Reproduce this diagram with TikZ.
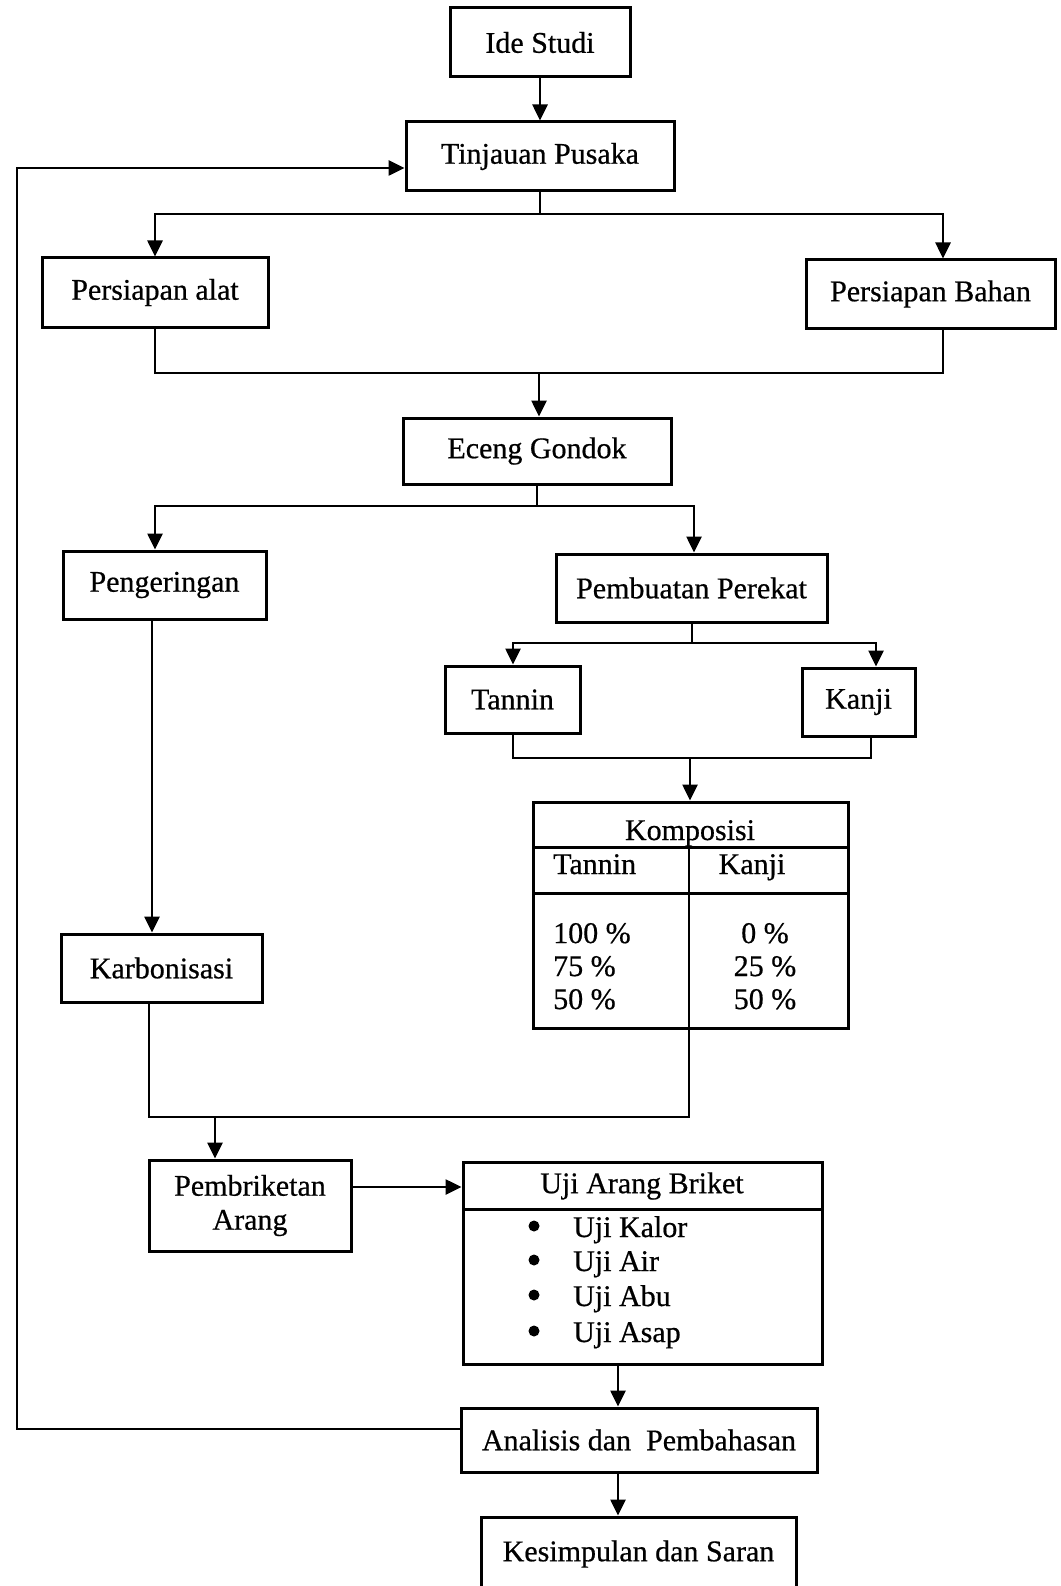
\documentclass[tikz,border=0pt]{standalone}
\usepackage{fontspec}
\setmainfont{Liberation Serif}[FakeBold=0.6]
\usetikzlibrary{arrows.meta}
\newcommand\mkbox[6]{\node[box,minimum width={#4-#2},minimum height={#5-#3}] (#1) at ({(#2+#4)/2},{(#3+#5)/2}) {#6};}
\begin{document}
\begin{tikzpicture}[x=1pt,y=-1pt,
  box/.style={draw, line width=3pt, inner sep=0pt, font=\fontsize{30}{34}\selectfont, align=center},
  txt/.style={inner sep=0pt, font=\fontsize{30}{34}\selectfont},
  dot/.style={circle, fill, inner sep=0pt, minimum size=11pt},
  ln/.style={line width=2.6pt},
  rule/.style={line width=3pt},
  ar/.style={line width=2.6pt, -{Triangle[length=16pt,width=15pt]}}]
\useasboundingbox (0,0) rectangle (1060,1586);
\clip (0,0) rectangle (1060,1586);
% boxes
\mkbox{ide}{450}{8}{630}{77}{Ide Studi}
\mkbox{tin}{406}{122}{674}{191}{Tinjauan Pusaka}
\mkbox{alat}{42}{258}{268}{327}{Persiapan alat}
\mkbox{bahan}{806}{260}{1055}{328}{Persiapan Bahan}
\mkbox{eceng}{403}{418}{671}{484}{Eceng Gondok}
\mkbox{peng}{63}{551}{266}{619}{Pengeringan}
\mkbox{perekat}{556}{554}{827}{622}{Pembuatan Perekat}
\mkbox{tannin}{445}{666}{580}{733}{Tannin}
\mkbox{kanji}{802}{668}{915}{736}{Kanji}
\mkbox{komp}{533}{802}{848}{1028}{}
\mkbox{karb}{61}{934}{262}{1002}{Karbonisasi}
\mkbox{pemb}{149}{1160}{351}{1251}{Pembriketan\\Arang}
\mkbox{uji}{463}{1162}{822}{1364}{}
\mkbox{anal}{461}{1408}{817}{1472}{Analisis dan\ \ Pembahasan}
\mkbox{kesim}{481}{1517}{796}{1591}{Kesimpulan dan Saran}
% table rules
\draw[rule] (533,847) -- (848,847);
\draw[rule] (533,893) -- (848,893);
\draw[rule] (463,1209) -- (822,1209);
% table texts
\node[txt, anchor=base] (kompT) at (690,840) {Komposisi};
\node[txt, anchor=base west] (tanH) at (553,874) {Tannin};
\node[txt, anchor=base] (kanH) at (752,874) {Kanji};
\node[txt, anchor=base west] (t1) at (553,943) {100 \%};
\node[txt, anchor=base west] (t2) at (553,976) {75 \%};
\node[txt, anchor=base west] (t3) at (553,1009) {50 \%};
\node[txt, anchor=base] (k1) at (765,943) {0 \%};
\node[txt, anchor=base] (k2) at (765,976) {25 \%};
\node[txt, anchor=base] (k3) at (765,1009) {50 \%};
% uji texts
\node[txt] (ujiT) at (642,1186) {Uji Arang Briket};
\node[dot] (bu1) at (534,1226) {};
\node[dot] (bu2) at (534,1260) {};
\node[dot] (bu3) at (534,1295) {};
\node[dot] (bu4) at (534,1331) {};
\node[txt, anchor=base west] (u1) at (573,1237) {Uji Kalor};
\node[txt, anchor=base west] (u2) at (573,1271) {Uji Air};
\node[txt, anchor=base west] (u3) at (573,1306) {Uji Abu};
\node[txt, anchor=base west] (u4) at (573,1342) {Uji Asap};
% coordinates
\coordinate (b1l) at (155,214);
\coordinate (b1r) at (943,214);
\coordinate (m1l) at (155,373);
\coordinate (m1r) at (943,373);
\coordinate (m1) at (539,373);
\coordinate (b2) at (537,506);
\coordinate (b2l) at (155,506);
\coordinate (b2r) at (694,506);
\coordinate (b3) at (692,643);
\coordinate (b3l) at (513,643);
\coordinate (b3r) at (876,643);
\coordinate (m3l) at (513,758);
\coordinate (m3r) at (871,758);
\coordinate (m3) at (690,758);
\coordinate (pk) at (152,0);
\coordinate (kv) at (689,847);
\coordinate (m4r) at (689,1117);
\coordinate (m4l) at (149,1117);
\coordinate (m4a) at (215,1117);
\coordinate (pu) at (0,1187);
\coordinate (ua) at (618,0);
\coordinate (fb1) at (17,1429);
\coordinate (fb2) at (17,168);
% connectors
\draw[ar] (ide) -- (tin);
\draw[ar] (tin.south) |- (b1l) -- (alat.north -| b1l);
\draw[ar] (tin.south) |- (b1r) -- (bahan.north -| b1r);
\draw[ln] (alat.south -| m1l) -- (m1l) -- (m1r) -- (bahan.south -| m1r);
\draw[ar] (m1) -- (eceng.north -| m1);
\draw[ar] (eceng.south -| b2) |- (b2l) -- (peng.north -| b2l);
\draw[ar] (eceng.south -| b2) |- (b2r) -- (perekat.north -| b2r);
\draw[ar] (perekat.south -| b3) |- (b3l) -- (tannin.north -| b3l);
\draw[ar] (perekat.south -| b3) |- (b3r) -- (kanji.north -| b3r);
\draw[ln] (tannin.south -| m3l) -- (m3l) -- (m3r) -- (kanji.south -| m3r);
\draw[ar] (m3) -- (komp.north -| m3);
\draw[ar] (peng.south -| pk) -- (karb.north -| pk);
\draw[ln] (kv) -- (m4r) -- (m4l) -- (karb.south -| m4l);
\draw[ar] (m4a) -- (pemb.north -| m4a);
\draw[ar] (pemb.east |- pu) -- (uji.west |- pu);
\draw[ar] (uji.south -| ua) -- (anal.north -| ua);
\draw[ar] (anal.south -| ua) -- (kesim.north -| ua);
\draw[ar] (anal.west |- fb1) -- (fb1) -- (fb2) -- (tin.west |- fb2);
\end{tikzpicture}
\end{document}
